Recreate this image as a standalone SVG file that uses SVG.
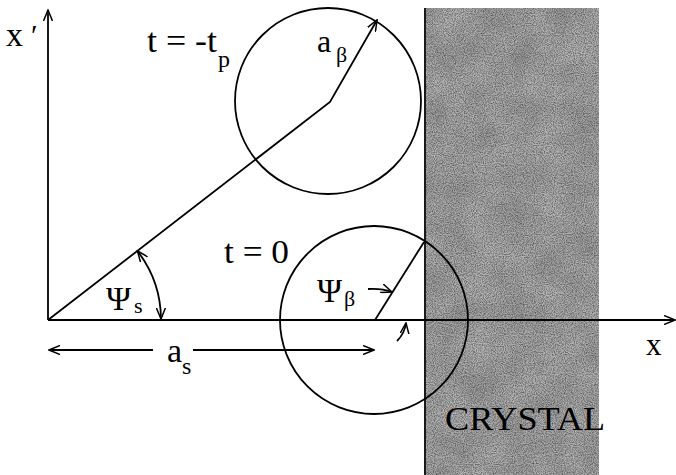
<svg xmlns="http://www.w3.org/2000/svg" width="676" height="475" viewBox="0 0 676 475">
<style>
.ln{fill:none;stroke:#000;stroke-width:1.8}
text{font-family:'Liberation Serif','DejaVu Serif',serif;fill:#000}
</style>
<defs>
<marker id="ah" viewBox="0 0 12 10" refX="11" refY="5" markerWidth="12" markerHeight="10" markerUnits="userSpaceOnUse" orient="auto-start-reverse">
<path d="M0,0.5 L11,5 L0,9.5" fill="none" stroke="#000" stroke-width="1.5"/>
</marker>
<filter id="noise" x="0" y="0" width="100%" height="100%">
<feTurbulence type="fractalNoise" baseFrequency="0.9" numOctaves="2" seed="3" result="n"/>
<feColorMatrix type="matrix" values="0 0 0 0 0  0 0 0 0 0  0 0 0 0 0  0 0 0 -1.8 1.2" result="a"/>
<feComposite in="SourceGraphic" in2="a" operator="in"/>
</filter>
<filter id="blot" x="0" y="0" width="100%" height="100%">
<feTurbulence type="fractalNoise" baseFrequency="0.03" numOctaves="2" seed="7" result="n"/>
<feColorMatrix type="matrix" values="0 0 0 0 0  0 0 0 0 0  0 0 0 0 0  0 0 0 -1.2 0.9" result="a"/>
<feComposite in="SourceGraphic" in2="a" operator="in"/>
</filter>
</defs>
<g id="crystal">
<rect x="426" y="8" width="173" height="467" fill="#b8b8b8"/>
<rect x="426" y="8" width="173" height="467" fill="#555" filter="url(#blot)" opacity="0.35"/>
<rect x="426" y="8" width="173" height="467" fill="#222" filter="url(#noise)" opacity="0.65"/>
<line x1="425" y1="8" x2="425" y2="475" class="ln"/>
<text x="445" y="430" font-size="34" textLength="160" lengthAdjust="spacingAndGlyphs">CRYSTAL</text>
</g>
<g id="axes">
<line x1="48" y1="320" x2="48" y2="10" class="ln" marker-end="url(#ah)"/>
<line x1="48" y1="320" x2="675" y2="320" class="ln" marker-end="url(#ah)"/>
<text x="6" y="46" font-size="34">x</text>
<text x="31" y="45" font-size="30">′</text>
<text x="646" y="355" font-size="31">x</text>
</g>
<g id="circle-tp">
<circle cx="328" cy="101" r="93" class="ln"/>
<text x="147" y="52" font-size="33" textLength="70" lengthAdjust="spacingAndGlyphs">t = -t</text>
<text x="218" y="67" font-size="24">p</text>
<text x="317" y="52" font-size="32">a</text>
<text x="336" y="62" font-size="22">β</text>
</g>
<g id="circle-t0">
<circle cx="374" cy="320" r="94" class="ln"/>
<text x="224" y="263" font-size="33" textLength="65" lengthAdjust="spacingAndGlyphs">t = 0</text>
<text x="317" y="302" font-size="34">Ψ</text>
<text x="344" y="306" font-size="22">β</text>
</g>
<g id="labels">
<text x="106" y="310" font-size="34">Ψ</text>
<text x="134" y="313" font-size="22">s</text>
<text x="167" y="362" font-size="34">a</text>
<text x="182" y="374" font-size="24">s</text>
</g>
<g id="connectors">
<polyline points="48,320 330,102 377,20" class="ln" marker-end="url(#ah)"/>
<line x1="375" y1="320" x2="424" y2="242" class="ln"/>
<path d="M137.4,250.9 A113,113 0 0 1 161,319" class="ln" marker-start="url(#ah)" marker-end="url(#ah)"/>
<line x1="153" y1="350" x2="49" y2="350" class="ln" marker-end="url(#ah)"/>
<line x1="193" y1="350" x2="374" y2="350" class="ln" marker-end="url(#ah)"/>
<path d="M368,289 Q381,288 392,292" class="ln" marker-end="url(#ah)"/>
<path d="M397,341 A31,31 0 0 0 406,323" class="ln" marker-end="url(#ah)"/>
</g>
</svg>
